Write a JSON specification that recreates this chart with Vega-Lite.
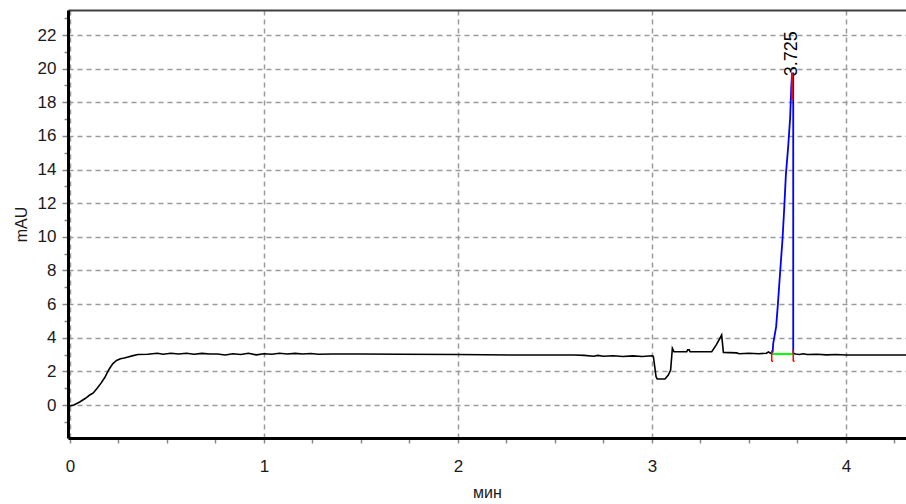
{
  "$schema": "https://vega.github.io/schema/vega-lite/v6.json",
  "autosize": {"type": "none"},
  "padding": {"left": 68, "top": 10, "right": 0, "bottom": 66},
  "width": 838,
  "height": 428,
  "background": "white",
  "config": {
    "view": {"stroke": null},
    "font": "Liberation Sans",
    "axis": {"labelFont": "Liberation Sans", "titleFont": "Liberation Sans"}
  },
  "datasets": {
    "trace": [
      {"i": 1, "seg": "a", "t": 0.0, "v": -0.05},
      {"i": 2, "seg": "a", "t": 0.02, "v": 0.0},
      {"i": 3, "seg": "a", "t": 0.05, "v": 0.18},
      {"i": 4, "seg": "a", "t": 0.08, "v": 0.4},
      {"i": 5, "seg": "a", "t": 0.10, "v": 0.58},
      {"i": 6, "seg": "a", "t": 0.12, "v": 0.72},
      {"i": 7, "seg": "a", "t": 0.14, "v": 1.0},
      {"i": 8, "seg": "a", "t": 0.16, "v": 1.3},
      {"i": 9, "seg": "a", "t": 0.18, "v": 1.65},
      {"i": 10, "seg": "a", "t": 0.20, "v": 2.1},
      {"i": 11, "seg": "a", "t": 0.22, "v": 2.45},
      {"i": 12, "seg": "a", "t": 0.24, "v": 2.65},
      {"i": 13, "seg": "a", "t": 0.26, "v": 2.75},
      {"i": 14, "seg": "a", "t": 0.28, "v": 2.8},
      {"i": 15, "seg": "a", "t": 0.30, "v": 2.86},
      {"i": 16, "seg": "a", "t": 0.32, "v": 2.92},
      {"i": 17, "seg": "a", "t": 0.35, "v": 3.0},
      {"i": 18, "seg": "a", "t": 0.40, "v": 3.02},
      {"i": 19, "seg": "a", "t": 0.45, "v": 3.08},
      {"i": 20, "seg": "a", "t": 0.48, "v": 3.02},
      {"i": 21, "seg": "a", "t": 0.52, "v": 3.08},
      {"i": 22, "seg": "a", "t": 0.56, "v": 3.03},
      {"i": 23, "seg": "a", "t": 0.60, "v": 3.08},
      {"i": 24, "seg": "a", "t": 0.64, "v": 3.02},
      {"i": 25, "seg": "a", "t": 0.68, "v": 3.07},
      {"i": 26, "seg": "a", "t": 0.72, "v": 3.03},
      {"i": 27, "seg": "a", "t": 0.76, "v": 3.03},
      {"i": 28, "seg": "a", "t": 0.80, "v": 2.97},
      {"i": 29, "seg": "a", "t": 0.84, "v": 3.05},
      {"i": 30, "seg": "a", "t": 0.88, "v": 3.0},
      {"i": 31, "seg": "a", "t": 0.92, "v": 3.08},
      {"i": 32, "seg": "a", "t": 0.96, "v": 2.98},
      {"i": 33, "seg": "a", "t": 1.00, "v": 3.05},
      {"i": 34, "seg": "a", "t": 1.04, "v": 3.02},
      {"i": 35, "seg": "a", "t": 1.08, "v": 3.08},
      {"i": 36, "seg": "a", "t": 1.12, "v": 3.03},
      {"i": 37, "seg": "a", "t": 1.16, "v": 3.07},
      {"i": 38, "seg": "a", "t": 1.20, "v": 3.03},
      {"i": 39, "seg": "a", "t": 1.24, "v": 3.06},
      {"i": 40, "seg": "a", "t": 1.28, "v": 3.02},
      {"i": 41, "seg": "a", "t": 1.35, "v": 3.03},
      {"i": 42, "seg": "a", "t": 1.50, "v": 3.03},
      {"i": 43, "seg": "a", "t": 1.70, "v": 3.02},
      {"i": 44, "seg": "a", "t": 2.00, "v": 3.0},
      {"i": 45, "seg": "a", "t": 2.30, "v": 2.97},
      {"i": 46, "seg": "a", "t": 2.60, "v": 2.97},
      {"i": 47, "seg": "a", "t": 2.65, "v": 2.95},
      {"i": 48, "seg": "a", "t": 2.70, "v": 2.9},
      {"i": 49, "seg": "a", "t": 2.72, "v": 2.95},
      {"i": 50, "seg": "a", "t": 2.75, "v": 2.9},
      {"i": 51, "seg": "a", "t": 2.80, "v": 2.93},
      {"i": 52, "seg": "a", "t": 2.85, "v": 2.88},
      {"i": 53, "seg": "a", "t": 2.90, "v": 2.92},
      {"i": 54, "seg": "a", "t": 2.95, "v": 2.88},
      {"i": 55, "seg": "a", "t": 3.00, "v": 2.93},
      {"i": 56, "seg": "a", "t": 3.007, "v": 2.9},
      {"i": 57, "seg": "a", "t": 3.015, "v": 2.2},
      {"i": 58, "seg": "a", "t": 3.021, "v": 1.68},
      {"i": 59, "seg": "a", "t": 3.027, "v": 1.55},
      {"i": 60, "seg": "a", "t": 3.067, "v": 1.55},
      {"i": 61, "seg": "a", "t": 3.084, "v": 1.78},
      {"i": 62, "seg": "a", "t": 3.096, "v": 2.08},
      {"i": 63, "seg": "a", "t": 3.105, "v": 3.37},
      {"i": 64, "seg": "a", "t": 3.113, "v": 3.17},
      {"i": 65, "seg": "a", "t": 3.179, "v": 3.17},
      {"i": 66, "seg": "a", "t": 3.184, "v": 3.28},
      {"i": 67, "seg": "a", "t": 3.192, "v": 3.28},
      {"i": 68, "seg": "a", "t": 3.196, "v": 3.17},
      {"i": 69, "seg": "a", "t": 3.308, "v": 3.17},
      {"i": 70, "seg": "a", "t": 3.333, "v": 3.6},
      {"i": 71, "seg": "a", "t": 3.359, "v": 4.16},
      {"i": 72, "seg": "a", "t": 3.368, "v": 3.13},
      {"i": 73, "seg": "a", "t": 3.436, "v": 3.1},
      {"i": 74, "seg": "a", "t": 3.45, "v": 3.05},
      {"i": 75, "seg": "a", "t": 3.50, "v": 3.08},
      {"i": 76, "seg": "a", "t": 3.55, "v": 3.05},
      {"i": 77, "seg": "a", "t": 3.59, "v": 3.08},
      {"i": 78, "seg": "a", "t": 3.60, "v": 3.15},
      {"i": 79, "seg": "a", "t": 3.617, "v": 3.05},
      {"i": 80, "seg": "b", "t": 3.728, "v": 3.08},
      {"i": 81, "seg": "b", "t": 3.74, "v": 3.03},
      {"i": 82, "seg": "b", "t": 3.76, "v": 3.0},
      {"i": 83, "seg": "b", "t": 3.78, "v": 3.05},
      {"i": 84, "seg": "b", "t": 3.80, "v": 3.0},
      {"i": 85, "seg": "b", "t": 3.85, "v": 3.02},
      {"i": 86, "seg": "b", "t": 3.90, "v": 2.98},
      {"i": 87, "seg": "b", "t": 3.95, "v": 3.0},
      {"i": 88, "seg": "b", "t": 4.0, "v": 2.97},
      {"i": 89, "seg": "b", "t": 4.1, "v": 2.97},
      {"i": 90, "seg": "b", "t": 4.2, "v": 2.97},
      {"i": 91, "seg": "b", "t": 4.31, "v": 2.97}
    ],
    "peak": [
      {"i": 1, "t": 3.617, "v": 3.05},
      {"i": 2, "t": 3.622, "v": 3.17},
      {"i": 3, "t": 3.625, "v": 3.67},
      {"i": 4, "t": 3.640, "v": 4.66},
      {"i": 5, "t": 3.648, "v": 5.85},
      {"i": 6, "t": 3.657, "v": 7.33},
      {"i": 7, "t": 3.665, "v": 8.62},
      {"i": 8, "t": 3.673, "v": 9.9},
      {"i": 9, "t": 3.682, "v": 11.79},
      {"i": 10, "t": 3.690, "v": 13.67},
      {"i": 11, "t": 3.702, "v": 15.36},
      {"i": 12, "t": 3.712, "v": 17.06},
      {"i": 13, "t": 3.718, "v": 18.93},
      {"i": 14, "t": 3.722, "v": 19.72},
      {"i": 15, "t": 3.728, "v": 19.72},
      {"i": 16, "t": 3.728, "v": 3.08}
    ],
    "marks": [
      {"t": 3.617, "v1": 2.6, "v2": 3.25, "t2": 3.624},
      {"t": 3.728, "v1": 2.6, "v2": 3.25, "t2": 3.735}
    ],
    "apex": [
      {"t": 3.722, "v": 19.72, "v1": 18.1, "label": "3.725"}
    ],
    "base": [
      {"t": 3.619, "t2": 3.727, "v": 3.03}
    ]
  },
  "resolve": {"axis": {"x": "independent", "y": "independent"}},
  "layer": [
    {
      "data": {"name": "trace"},
      "mark": {"type": "line", "color": "#000000", "strokeWidth": 1.6},
      "encoding": {
        "x": {
          "field": "t", "type": "quantitative",
          "scale": {"domain": [-0.0103, 4.3093], "nice": false, "zero": false},
          "axis": {
            "orient": "bottom",
            "values": [0, 0.25, 0.5, 0.75, 1, 1.25, 1.5, 1.75, 2, 2.25, 2.5, 2.75, 3, 3.25, 3.5, 3.75, 4, 4.25],
            "labelExpr": "datum.value % 1 == 0 ? format(datum.value, 'd') : ''",
            "labelFontSize": 17, "labelColor": "#1a1a1a", "labelPadding": 15,
            "labelFlush": false, "labelOverlap": false,
            "tickColor": "#888888", "tickSize": 5, "tickWidth": 1.5,
            "domainColor": "#000000", "domainWidth": 3,
            "grid": true, "gridColor": "#9a9a9a", "gridDash": [5, 4], "gridWidth": 1.5,
            "gridOpacity": {"condition": {"test": "datum.value % 1 == 0", "value": 1}, "value": 0},
            "title": "мин", "titleFontSize": 16, "titleFontWeight": "normal", "titleColor": "#1a1a1a", "titlePadding": 10
          }
        },
        "y": {
          "field": "v", "type": "quantitative",
          "scale": {"domain": [-1.962, 23.487], "nice": false, "zero": false},
          "axis": {
            "values": [-1, 0, 1, 2, 3, 4, 5, 6, 7, 8, 9, 10, 11, 12, 13, 14, 15, 16, 17, 18, 19, 20, 21, 22, 23],
            "labelExpr": "datum.value % 2 == 0 ? format(datum.value, 'd') : ''",
            "labelFontSize": 17, "labelColor": "#1a1a1a", "labelPadding": 6,
            "labelFlush": false, "labelOverlap": false,
            "tickColor": "#888888", "tickWidth": 1.5,
            "tickSize": {"condition": {"test": "datum.value % 2 == 0", "value": 6}, "value": 4},
            "domainColor": "#000000", "domainWidth": 3,
            "grid": true, "gridColor": "#9a9a9a", "gridDash": [5, 4], "gridWidth": 1.5,
            "gridOpacity": {"condition": {"test": "datum.value % 2 == 0 && datum.value >= 0", "value": 1}, "value": 0},
            "title": "mAU", "titleFontSize": 16, "titleFontWeight": "normal", "titleColor": "#1a1a1a", "titlePadding": 8
          }
        },
        "detail": {"field": "seg"},
        "order": {"field": "i", "type": "quantitative"}
      }
    },
    {
      "data": {"name": "peak"},
      "mark": {"type": "line", "color": "#0000ff", "strokeWidth": 1.8},
      "encoding": {
        "x": {"field": "t", "type": "quantitative", "axis": {"orient": "top", "labels": false, "ticks": false, "grid": false, "domainColor": "#404040", "domainWidth": 2, "title": null}},
        "y": {"field": "v", "type": "quantitative", "axis": null},
        "order": {"field": "i", "type": "quantitative"}
      }
    },
    {
      "data": {"name": "base"},
      "mark": {"type": "rule", "color": "#00ff00", "strokeWidth": 2},
      "encoding": {
        "x": {"field": "t", "type": "quantitative", "axis": null},
        "x2": {"field": "t2"},
        "y": {"field": "v", "type": "quantitative", "axis": null}
      }
    },
    {
      "data": {"name": "marks"},
      "mark": {"type": "rule", "color": "#ff0000", "strokeWidth": 1.5},
      "encoding": {
        "x": {"field": "t", "type": "quantitative", "axis": null},
        "y": {"field": "v1", "type": "quantitative", "axis": null},
        "y2": {"field": "v2"}
      }
    },
    {
      "data": {"name": "marks"},
      "mark": {"type": "rule", "color": "#ff0000", "strokeWidth": 1.5},
      "encoding": {
        "x": {"field": "t", "type": "quantitative", "axis": null},
        "x2": {"field": "t2"},
        "y": {"field": "v1", "type": "quantitative", "axis": null}
      }
    },
    {
      "data": {"name": "apex"},
      "mark": {"type": "rule", "color": "#ff0000", "strokeWidth": 1.8},
      "encoding": {
        "x": {"field": "t", "type": "quantitative", "axis": null},
        "y": {"field": "v1", "type": "quantitative", "axis": null},
        "y2": {"field": "v"}
      }
    },
    {
      "data": {"name": "apex"},
      "mark": {"type": "text", "angle": 270, "align": "left", "baseline": "middle", "dx": -3, "fontSize": 18, "font": "Liberation Sans", "color": "#000000"},
      "encoding": {
        "x": {"field": "t", "type": "quantitative", "axis": null},
        "y": {"field": "v", "type": "quantitative", "axis": null},
        "text": {"field": "label"}
      }
    }
  ]
}
